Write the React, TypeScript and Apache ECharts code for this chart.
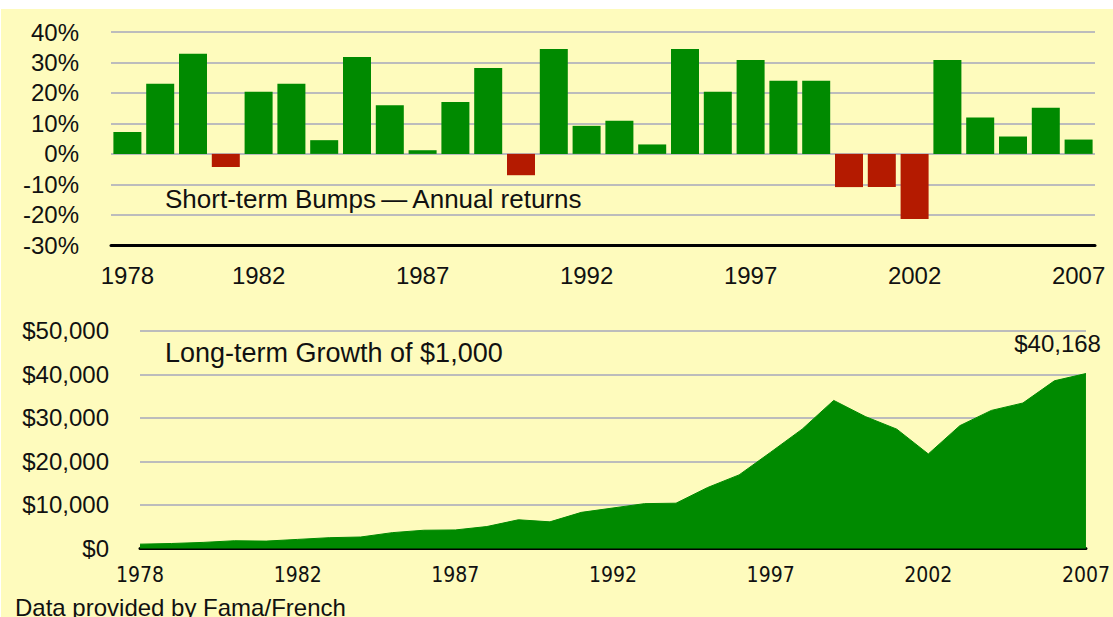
import React, { useEffect, useRef } from "react";
import * as echarts from "echarts";

// ---------- data ----------
const years = [
  "1978", "1979", "1980", "1981", "1982", "1983", "1984", "1985", "1986", "1987",
  "1988", "1989", "1990", "1991", "1992", "1993", "1994", "1995", "1996", "1997",
  "1998", "1999", "2000", "2001", "2002", "2003", "2004", "2005", "2006", "2007",
];
const annualReturns = [
  7.2, 23.0, 32.9, -4.3, 20.4, 23.0, 4.5, 31.8, 16.0, 1.2,
  17.0, 28.2, -7.0, 34.4, 9.2, 10.9, 3.1, 34.4, 20.4, 30.8,
  24.0, 24.0, -10.9, -10.9, -21.4, 30.8, 11.9, 5.7, 15.1, 4.7,
];
const topTickYears = ["1978", "1982", "1987", "1992", "1997", "2002", "2007"];

// growth of $1,000: starting value, then value at each year end
const growthPoints = [
  "Start",
  "1978", "1979", "1980", "1981", "1982", "1983", "1984", "1985", "1986", "1987",
  "1988", "1989", "1990", "1991", "1992", "1993", "1994", "1995", "1996", "1997",
  "1998", "1999", "2000", "2001", "2002", "2003", "2004", "2005", "2006", "2007",
];
const growthValues = [
  1000,
  1150, 1400, 1780, 1700, 2090, 2480, 2640, 3640, 4190, 4260,
  5040, 6590, 6120, 8300, 9300, 10300, 10400, 14000, 16900, 22100,
  27400, 34000, 30300, 27400, 21700, 28200, 31700, 33400, 38500, 40168,
];
const growthTickLabels = ["1978", "1982", "1987", "1992", "1997", "2002", "2007"];

const percentMin = -30;
const percentMax = 40;
const percentStep = 10;
const dollarMin = 0;
const dollarMax = 50000;
const dollarStep = 10000;

const finalLabel = "$40,168";
const topTitle = "Short-term Bumps\u2009\u2014\u2009Annual returns";
const bottomTitle = "Long-term Growth of $1,000";
const sourceNote = "Data provided by Fama/French";

// ---------- style ----------
const BG = "#fefbbd";
const GREEN = "#008a00";
const RED = "#b41a00";
const GRID = "#bcbcbc";
const TEXT = "#111111";
const FONT = "'Liberation Sans', Arial, Helvetica, sans-serif";
const NARROW = "'Liberation Sans Narrow', 'Arial Narrow', 'DejaVu Sans Condensed', sans-serif";

export default function App() {
  const ref = useRef<HTMLDivElement>(null);

  useEffect(() => {
    if (!ref.current) return;
    const chart = echarts.init(ref.current, undefined, { renderer: "svg" });

    const option: any = {
      animation: false,
      backgroundColor: BG,
      textStyle: { fontFamily: FONT },
      grid: [
        { left: 110, right: 18, top: 23, bottom: 371.7, containLabel: false },
        { left: 139, right: 18, top: 321.7, bottom: 68.5, containLabel: false },
      ],
      xAxis: [
        {
          type: "category",
          gridIndex: 0,
          data: years,
          boundaryGap: true,
          axisLine: { show: true, onZero: false, lineStyle: { color: "#000", width: 3 } },
          axisTick: { show: false },
          axisLabel: {
            interval: (i: number, v: string) => topTickYears.includes(v),
            color: TEXT,
            fontSize: 24,
            fontFamily: FONT,
            margin: 18,
          },
          splitLine: { show: false },
        },
        {
          type: "category",
          gridIndex: 1,
          data: growthPoints,
          boundaryGap: false,
          axisLine: { show: true, onZero: false, lineStyle: { color: "#000", width: 3 } },
          axisTick: { show: false },
          axisLabel: {
            interval: 4,
            formatter: (v: string, i: number) => (i % 5 === 0 ? growthTickLabels[i / 5] : ""),
            color: TEXT,
            fontSize: 21,
            fontFamily: NARROW,
            margin: 16,
          },
          splitLine: { show: false },
        },
      ],
      yAxis: [
        {
          type: "value",
          gridIndex: 0,
          min: percentMin,
          max: percentMax,
          interval: percentStep,
          axisLine: { show: false },
          axisTick: { show: false },
          axisLabel: {
            formatter: (v: number) => `${v}%`,
            color: TEXT,
            fontSize: 24,
            fontFamily: FONT,
            margin: 32,
            padding: [6, 0, 0, 0],
          },
          splitLine: { show: true, lineStyle: { color: GRID, width: 2 } },
        },
        {
          type: "value",
          gridIndex: 1,
          min: dollarMin,
          max: dollarMax,
          interval: dollarStep,
          axisLine: { show: false },
          axisTick: { show: false },
          axisLabel: {
            formatter: (v: number) => "$" + v.toLocaleString("en-US"),
            color: TEXT,
            fontSize: 24,
            fontFamily: FONT,
            margin: 31,
            padding: [8, 0, 0, 0],
          },
          splitLine: { show: true, lineStyle: { color: GRID, width: 2 } },
        },
      ],
      series: [
        {
          type: "bar",
          xAxisIndex: 0,
          yAxisIndex: 0,
          data: annualReturns,
          barWidth: 28,
          itemStyle: {
            color: (p: any) => (p.value >= 0 ? GREEN : RED),
          },
        },
        {
          type: "line",
          xAxisIndex: 1,
          yAxisIndex: 1,
          data: growthValues,
          symbol: "none",
          showSymbol: false,
          lineStyle: { color: GREEN, width: 1 },
          areaStyle: { color: GREEN, opacity: 1 },
          z: 1,
          markPoint: {
            symbol: "circle",
            symbolSize: 1,
            itemStyle: { color: "rgba(0,0,0,0)" },
            data: [{ coord: [growthPoints[growthPoints.length - 1], growthValues[growthValues.length - 1]] }],
            label: {
              show: true,
              position: "top",
              formatter: finalLabel,
              color: TEXT,
              fontSize: 24,
              fontFamily: FONT,
              align: "right",
              offset: [15, -13],
            },
          },
        },
      ],
      graphic: [
        {
          type: "text",
          left: 164,
          top: 177,
          style: { text: topTitle, fill: TEXT, font: `26px ${FONT}` },
        },
        {
          type: "text",
          left: 164,
          top: 330,
          style: { text: bottomTitle, fill: TEXT, font: `27px ${FONT}` },
        },
        {
          type: "text",
          left: 14,
          top: 586,
          style: { text: sourceNote, fill: TEXT, font: `24px ${FONT}` },
        },
      ],
    };

    chart.setOption(option);
    return () => chart.dispose();
  }, []);

  return (
    <div style={{ position: "fixed", left: 0, top: 0, width: 1113, height: 617, background: "#ffffff" }}>
      <div ref={ref} style={{ position: "absolute", left: 1, top: 9, width: 1112, height: 608 }} />
    </div>
  );
}
